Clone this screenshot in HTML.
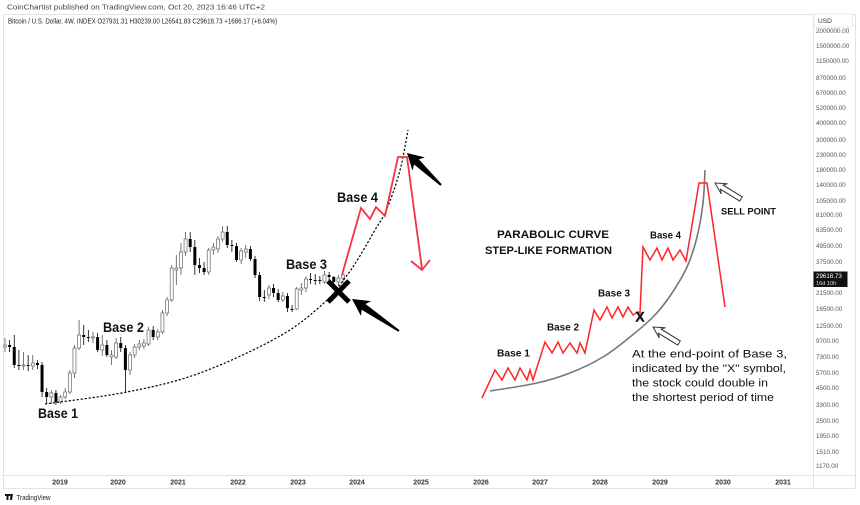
<!DOCTYPE html>
<html><head><meta charset="utf-8">
<style>
html,body{margin:0;padding:0;background:#fff;overflow:hidden;}
svg{display:block;}
text{font-family:"Liberation Sans",Arial,sans-serif;}
</style></head><body>
<svg id="s" width="860" height="505" viewBox="0 0 860 505" xmlns="http://www.w3.org/2000/svg">
<rect width="860" height="505" fill="#fff"/>
<text x="7" y="9.6" font-size="7.4" fill="#444" textLength="258" lengthAdjust="spacingAndGlyphs">CoinChartist published on TradingView.com, Oct 20, 2023 16:46 UTC+2</text>
<line x1="3" y1="14.5" x2="855" y2="14.5" stroke="#e0e3eb"/>
<line x1="3.5" y1="14" x2="3.5" y2="488" stroke="#e0e3eb"/>
<line x1="813.5" y1="14" x2="813.5" y2="490" stroke="#e0e3eb"/>
<line x1="855.5" y1="14" x2="855.5" y2="488" stroke="#e0e3eb"/>
<line x1="3" y1="475.5" x2="855" y2="475.5" stroke="#e0e3eb"/>
<line x1="3" y1="488.5" x2="855" y2="488.5" stroke="#e0e3eb"/>
<text x="8" y="23.6" font-size="7" fill="#222" textLength="269" lengthAdjust="spacingAndGlyphs">Bitcoin / U.S. Dollar, 4W, INDEX  O27931.31  H30239.00  L26541.83  C29618.73  +1686.17 (+6.04%)</text>

<g font-size="6.3" fill="#555">
<text x="816" y="33.2">2000000.00</text>
<text x="816" y="48.2">1500000.00</text>
<text x="816" y="63.2">1150000.00</text>
<text x="816" y="80.2">870000.00</text>
<text x="816" y="95.2">670000.00</text>
<text x="816" y="110.2">520000.00</text>
<text x="816" y="125.2">400000.00</text>
<text x="816" y="142.2">300000.00</text>
<text x="816" y="157.2">230000.00</text>
<text x="816" y="172.2">180000.00</text>
<text x="816" y="187.2">140000.00</text>
<text x="816" y="203.2">105000.00</text>
<text x="816" y="217.2">81000.00</text>
<text x="816" y="232.2">63500.00</text>
<text x="816" y="248.2">49500.00</text>
<text x="816" y="264.2">37500.00</text>
<text x="816" y="295.2">21500.00</text>
<text x="816" y="311.2">16500.00</text>
<text x="816" y="328.2">12500.00</text>
<text x="816" y="343.2">9700.00</text>
<text x="816" y="359.2">7300.00</text>
<text x="816" y="375.2">5700.00</text>
<text x="816" y="390.2">4500.00</text>
<text x="816" y="407.2">3300.00</text>
<text x="816" y="423.2">2500.00</text>
<text x="816" y="438.2">1950.00</text>
<text x="816" y="454.2">1510.00</text>
<text x="816" y="468.2">1170.00</text>
</g>
<rect x="814" y="14" width="38.5" height="13" fill="#fff" stroke="#e0e3eb" stroke-width="0.8" rx="2"/>
<text x="818" y="22.8" font-size="6.6" fill="#333">USD</text>
<rect x="813.5" y="271.5" width="34" height="15.5" fill="#111"/>
<text x="816" y="277.8" font-size="6.2" fill="#fff">29618.73</text>
<text x="816" y="284.8" font-size="5.6" fill="#ddd">16d 10h</text>

<g font-size="7" font-weight="bold" fill="#333" text-anchor="middle">
<text x="60" y="484.5">2019</text>
<text x="118" y="484.5">2020</text>
<text x="178" y="484.5">2021</text>
<text x="238" y="484.5">2022</text>
<text x="298" y="484.5">2023</text>
<text x="357" y="484.5">2024</text>
<text x="421" y="484.5">2025</text>
<text x="481" y="484.5">2026</text>
<text x="540" y="484.5">2027</text>
<text x="600" y="484.5">2028</text>
<text x="660" y="484.5">2029</text>
<text x="723" y="484.5">2030</text>
<text x="783" y="484.5">2031</text>
</g>
<g fill="#111">
<rect x="5" y="494" width="5" height="2"/>
<rect x="6.5" y="494" width="2" height="6"/>
<polygon points="10.5,494 13,494 12,500 10,500"/>
<circle cx="9.8" cy="495" r="0.9"/>
</g>
<text x="16.5" y="500" font-size="7.3" fill="#222" textLength="34" lengthAdjust="spacingAndGlyphs">TradingView</text>

<g id="candles"></g>
<path id="dotted" fill="none" stroke="#000" stroke-width="1.2" stroke-dasharray="2.2,1.8"/>
<polyline points="342,275 361,208 370,219 376,207 385,216 398,157 407,157 422,269" fill="none" stroke="#f5333f" stroke-width="1.8" stroke-linejoin="miter"/>
<polyline points="411,261 422,270 430,260" fill="none" stroke="#f5333f" stroke-width="1.8"/>
<g stroke="#000" stroke-width="5">
<line x1="328" y1="281" x2="349" y2="302"/>
<line x1="349" y1="281" x2="328" y2="302"/>
</g>
<polygon id="arr1" fill="#000"/>
<polygon id="arr2" fill="#000"/>

<g font-size="13.5" font-weight="bold" fill="#111">
<text x="38" y="418" textLength="40" lengthAdjust="spacingAndGlyphs">Base 1</text>
<text x="103" y="332" textLength="41" lengthAdjust="spacingAndGlyphs">Base 2</text>
<text x="286" y="269" textLength="41" lengthAdjust="spacingAndGlyphs">Base 3</text>
<text x="337" y="202" textLength="41" lengthAdjust="spacingAndGlyphs">Base 4</text>
</g>

<path id="gray" fill="none" stroke="#777" stroke-width="1.6"/>
<polyline points="482,398 495,370 502,380 508,368 515,380 520,368 527,380 530,370 533,380 545,342 552,353 558,342 563,353 570,343 577,353 580,343 585,353 594,310 600,320 607,307 612,318 618,307 623,317 628,307 633,315 638,312 640,313 643,247 650,260 657,248 662,260 668,248 673,260 680,250 686,261 699,183 707,183 725,307" fill="none" stroke="#ff2424" stroke-width="1.5" stroke-linejoin="miter"/>
<polygon id="h1" fill="#fff" stroke="#333" stroke-width="1"/>
<polygon id="h2" fill="#fff" stroke="#333" stroke-width="1"/>
<g font-weight="bold" fill="#111">
<text x="497" y="238" font-size="11" textLength="112" lengthAdjust="spacingAndGlyphs">PARABOLIC CURVE</text>
<text x="485" y="254" font-size="11" textLength="127" lengthAdjust="spacingAndGlyphs">STEP-LIKE FORMATION</text>
<text x="721" y="214.5" font-size="9.5" textLength="55" lengthAdjust="spacingAndGlyphs">SELL POINT</text>
<text x="497" y="356.5" font-size="10" textLength="33" lengthAdjust="spacingAndGlyphs">Base 1</text>
<text x="547" y="330.5" font-size="10" textLength="32" lengthAdjust="spacingAndGlyphs">Base 2</text>
<text x="598" y="296.5" font-size="10" textLength="32" lengthAdjust="spacingAndGlyphs">Base 3</text>
<text x="650" y="238.5" font-size="10" textLength="31" lengthAdjust="spacingAndGlyphs">Base 4</text>
<text x="640" y="321.5" font-size="13.5" text-anchor="middle" stroke="#111" stroke-width="0.4">X</text>
</g>
<g font-size="11" fill="#111">
<text x="632" y="357.5" textLength="155" lengthAdjust="spacingAndGlyphs">At the end-point of Base 3,</text>
<text x="632" y="372" textLength="154" lengthAdjust="spacingAndGlyphs">indicated by the "X" symbol,</text>
<text x="632" y="386.5" textLength="136" lengthAdjust="spacingAndGlyphs">the stock could double in</text>
<text x="632" y="401" textLength="142" lengthAdjust="spacingAndGlyphs">the shortest period of time</text>
</g>
</svg>
<script>
(function(){
var NS="http://www.w3.org/2000/svg";
var C=[
[347,345,338,352],[345,347,340,352],[347,365,335,368],[365,366,350,370],[366,365,352,370],
[365,366,355,371],[366,363,355,370],[363,365,360,369],[365,392,362,397],[392,397,388,404],
[397,393,390,404],[393,402,390,405],[402,397,395,404],[397,392,388,399],[392,373,370,394],
[373,348,345,378],[348,335,320,350],[335,337,325,345],[337,338,330,342],[338,337,332,343],
[337,350,333,352],[350,345,335,356],[345,355,340,357],[357,355,350,365],[357,343,338,359],
[343,348,337,352],[348,370,345,393],[370,355,352,375],[355,347,344,358],[347,344,340,350],
[346,343,339,349],[344,330,327,346],[330,337,326,340],[337,332,329,340],[332,313,310,334],
[313,300,297,316],[300,268,265,302],[270,268,255,285],[268,252,243,275],[252,239,232,256],
[239,247,232,252],[247,265,240,275],[265,268,258,273],[268,272,262,275],[272,250,248,275],
[250,247,243,255],[249,239,236,253],[239,232,226,242],[232,245,226,248],[245,246,240,252],
[246,260,243,262],[260,251,248,264],[252,249,245,258],[249,259,246,261],[259,275,256,278],
[275,297,272,301],[297,297,290,302],[295,288,285,299],[288,293,284,297],[293,300,289,302],
[300,296,292,302],[296,308,293,312],[309,309,305,312],[309,289,287,310],[290,288,283,295],
[288,279,276,292],[279,279,273,284],[280,280,274,285],[280,281,276,284],[282,275,271,284],
[275,277,272,280],[277,282,276,285],[282,278,275,286],[278,275,272,283]];
var g=document.getElementById("candles");
var n=C.length, step=338/(n-1);
for(var i=0;i<n;i++){
  var c=C[i], x=5+i*step, o=c[0], cl=c[1], h=c[2], l=c[3];
  var up = cl<o;
  var col = up ? "#555" : "#000";
  var w=document.createElementNS(NS,"line");
  w.setAttribute("x1",x);w.setAttribute("x2",x);w.setAttribute("y1",h);w.setAttribute("y2",l);
  w.setAttribute("stroke",col);w.setAttribute("stroke-width","0.8");g.appendChild(w);
  var top=Math.min(o,cl), bh=Math.max(Math.abs(o-cl),1);
  var r=document.createElementNS(NS,"rect");
  r.setAttribute("x",x-1.5);r.setAttribute("y",top);r.setAttribute("width",3);r.setAttribute("height",bh);
  if(up){r.setAttribute("fill","#fff");r.setAttribute("stroke","#666");r.setAttribute("stroke-width","0.7");}
  else{r.setAttribute("fill","#000");}
  g.appendChild(r);
}
function cr(p){
  var d="M"+p[0][0]+","+p[0][1];
  for(var i=0;i<p.length-1;i++){
    var p0=p[i-1]||p[i],p1=p[i],p2=p[i+1],p3=p[i+2]||p2;
    var c1=[p1[0]+(p2[0]-p0[0])/6,p1[1]+(p2[1]-p0[1])/6];
    var c2=[p2[0]-(p3[0]-p1[0])/6,p2[1]-(p3[1]-p1[1])/6];
    d+=" C"+c1[0]+","+c1[1]+" "+c2[0]+","+c2[1]+" "+p2[0]+","+p2[1];
  }
  return d;
}
document.getElementById("dotted").setAttribute("d",cr([[45,404],[127,392],[200,373],[280,336],[325,302],[345,278],[358,259],[375,230],[385,213],[395,187],[402,162],[408,130]]));
document.getElementById("gray").setAttribute("d",cr([[490,391],[537,383],[570,373],[603,357],[630,337],[653,317],[670,296],[687,267],[697,237],[703,203],[705,170]]));
function arrow(tx,ty,ex,ey,L,W,sw,tw){
  var dx=ex-tx,dy=ey-ty,len=Math.sqrt(dx*dx+dy*dy),ux=dx/len,uy=dy/len,nx=-uy,ny=ux;
  var P=[[tx,ty],[tx+ux*L+nx*W,ty+uy*L+ny*W],[tx+ux*(L-3)+nx*sw,ty+uy*(L-3)+ny*sw],
  [ex+nx*tw,ey+ny*tw],[ex-nx*tw,ey-ny*tw],[tx+ux*(L-3)-nx*sw,ty+uy*(L-3)-ny*sw],[tx+ux*L-nx*W,ty+uy*L-ny*W]];
  return P.map(function(q){return q[0].toFixed(1)+","+q[1].toFixed(1);}).join(" ");
}
document.getElementById("arr1").setAttribute("points",arrow(352,299,399,331,17,9,3.5,1));
document.getElementById("arr2").setAttribute("points",arrow(407,153,441,185,16,9,3.5,1));
document.getElementById("h1").setAttribute("points",arrow(715,183,741,199,11,6,2.5,2.5));
document.getElementById("h2").setAttribute("points",arrow(653,327,679,343,11,6,2.5,2.5));
})();
</script>
</body></html>
